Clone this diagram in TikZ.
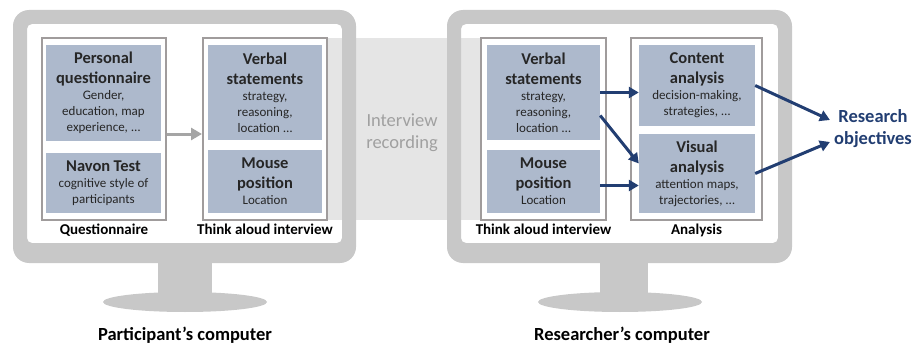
\documentclass[tikz,border=0pt]{standalone}
\usepackage{fontspec}
\setmainfont{Carlito}
\usepackage{tikz}
\usetikzlibrary{arrows.meta}
\usetikzlibrary{positioning}
\definecolor{ScreenGray}{RGB}{200,200,200}
\definecolor{BandGray}{RGB}{229,229,229}
\definecolor{BoxLine}{RGB}{160,156,156}
\definecolor{BoxFill}{RGB}{173,185,204}
\definecolor{FlowBlue}{RGB}{34,62,114}
\definecolor{FlowGray}{RGB}{165,165,165}
\definecolor{RecText}{RGB}{160,160,160}
\newcommand{\ttlfont}{\fontsize{16.5}{20}\selectfont\bfseries}
\newcommand{\subfont}{\fontsize{13}{16}\selectfont}
\tikzset{
	frame/.style={fill=ScreenGray, even odd rule},
	group/.style={draw=BoxLine, line width=2pt, fill=white, inner sep=0pt},
	info/.style={fill=BoxFill, inner sep=2pt, align=center, text=black!85},
	lbl/.style={font=\fontsize{15}{18}\selectfont\bfseries, inner sep=1pt},
	pclbl/.style={font=\fontsize{18.5}{22}\selectfont\bfseries},
	flow/.style={-{Triangle[length=10pt,width=11pt]}, line width=3pt, draw=FlowBlue},
	gflow/.style={-{Triangle[length=11pt,width=12pt]}, line width=3pt, draw=FlowGray}
}

\begin{document}
\begin{tikzpicture}[x=1pt, y=-1pt]
		\useasboundingbox (0,0) rectangle (914,345);
		% recording band behind both screens
		\fill[BandGray] (300,38) rectangle (500,220);
		% monitors
		\fill[frame] [rounded corners=16pt] (13,10) rectangle (356,263) [rounded corners=5pt] (27,24) rectangle (342,243);
		\fill[ScreenGray] (158,255) rectangle (212,300);
		\fill[ScreenGray] (185,302) ellipse [x radius=82pt, y radius=10pt];
		\fill[frame] [rounded corners=16pt] (447,10) rectangle (792,263) [rounded corners=5pt] (461,24) rectangle (778,243);
		\fill[ScreenGray] (600,255) rectangle (648,300);
		\fill[ScreenGray] (620,302) ellipse [x radius=82pt, y radius=10pt];
		\node[align=center, text=RecText, font=\fontsize{18.5}{22}\selectfont] (rec) at (402,133) {Interview\\ recording};
		% participant side
		\node[group, minimum width=124, minimum height=182] (qbox) at (104,129) {};
		\node[group, minimum width=124, minimum height=182] (tbox1) at (265,129) {};
		\node[info, text width=111, minimum height=96] (pq) at (103.5,93) {{\ttlfont Personal\\ questionnaire\par}{\subfont Gender,\\ education, map\\ experience, \dots\par}};
		\node[info, text width=111, minimum height=60] (nt) at (103.5,183) {{\ttlfont Navon Test\par}{\subfont cognitive style of\\ participants\par}};
		\node[info, text width=110, minimum height=95] (vs1) at (265,92.5) {{\ttlfont Verbal\\ statements\par}{\subfont strategy,\\ reasoning,\\ location \dots\par}};
		\node[info, text width=110, minimum height=63] (mp1) at (265,181.5) {{\ttlfont Mouse\\ position\par}{\subfont Location\par}};
		\node[lbl, below=2pt of qbox] (qlbl) {Questionnaire};
		\node[lbl, below=2pt of tbox1] (tlbl1) {Think aloud interview};
		\node[pclbl] (pc1) at (185,335) {Participant’s computer};
		% researcher side
		\node[group, minimum width=125, minimum height=182] (tbox2) at (543.5,129) {};
		\node[group, minimum width=131, minimum height=182] (abox) at (696.5,129) {};
		\node[info, text width=109, minimum height=95] (vs2) at (543.5,92.5) {{\ttlfont Verbal\\ statements\par}{\subfont strategy,\\ reasoning,\\ location \dots\par}};
		\node[info, text width=109, minimum height=63] (mp2) at (543.5,181.5) {{\ttlfont Mouse\\ position\par}{\subfont Location\par}};
		\node[info, text width=112, minimum height=81] (ca) at (697,85.5) {{\ttlfont Content\\ analysis\par}{\subfont decision-making,\\ strategies, \dots\par}};
		\node[info, text width=112, minimum height=79] (va) at (697,173.5) {{\ttlfont Visual\\ analysis\par}{\subfont attention maps,\\ trajectories, \dots\par}};
		\node[lbl, below=2pt of tbox2] (tlbl2) {Think aloud interview};
		\node[lbl, below=2pt of abox] (albl) {Analysis};
		\node[pclbl] (pc2) at (622,335) {Researcher’s computer};
		\node[align=center, text=FlowBlue, font=\fontsize{18.5}{22}\selectfont\bfseries, inner sep=4pt] (ro) at (873,129) {Research\\ objectives};
		% connectors
		\coordinate (qout) at ([yshift=-5pt]qbox.east);
		\draw[gflow] (qout) -- (qout -| tbox1.west);
		\draw[flow] (vs2.east) -- (vs2.east -| ca.west);
		\draw[flow] ([yshift=-23pt]vs2.east) -- ([yshift=10pt]va.west);
		\coordinate (mpout) at ([yshift=-4pt]mp2.east);
		\draw[flow] (mpout) -- (mpout -| va.west);
		\draw[flow] (ca.east) -- ([yshift=9pt]ro.west);
		\draw[flow] (va.east) -- ([yshift=-13pt]ro.west);
	\end{tikzpicture}
\end{document}
